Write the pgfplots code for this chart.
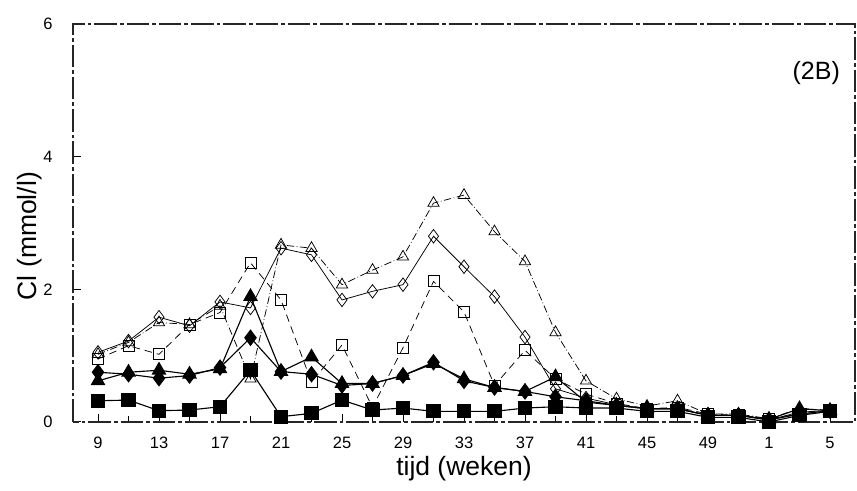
\documentclass[border=0pt]{standalone}
\usepackage{pgfplots}
\pgfplotsset{compat=1.18}
\usepackage{pgfplotstable}
\usepackage{fontspec}
\setmainfont{Liberation Sans}

% Cl per sampling week (weeks 1,3,5 of the next year stored as 53,55,57)
\pgfplotstableread{
week T    D    S    FT   FD   FS
9    1.02 1.05 0.95 0.62 0.75 0.32
11   1.20 1.22 1.15 0.75 0.72 0.33
13   1.50 1.58 1.02 0.78 0.66 0.17
15   1.47 1.45 1.47 0.72 0.70 0.18
17   1.75 1.81 1.65 0.80 0.82 0.23
19   0.65 1.72 2.40 1.89 1.27 0.78
21   2.67 2.62 1.84 0.76 0.76 0.08
23   2.62 2.52 0.60 0.98 0.72 0.13
25   2.07 1.84 1.16 0.58 0.55 0.33
27   2.29 1.97 0.22 0.58 0.58 0.18
29   2.49 2.07 1.12 0.70 0.70 0.21
31   3.30 2.80 2.12 0.88 0.90 0.16
33   3.42 2.34 1.66 0.65 0.62 0.16
35   2.87 1.89 0.55 0.52 0.52 0.16
37   2.42 1.28 1.08 0.46 0.46 0.21
39   1.35 0.50 0.65 0.68 0.38 0.23
41   0.62 0.36 0.42 0.30 0.32 0.21
43   0.35 0.26 0.28 0.25 0.25 0.21
45   0.24 0.20 0.20 0.20 0.20 0.16
47   0.32 0.20 0.22 0.20 0.20 0.16
49   0.12 0.10 0.12 0.10 0.10 0.07
51   0.12 0.10 0.10 0.10 0.10 0.07
53   0.05 0.03 0.05 0.04 0.03 0.00
55   0.20 0.15 0.12 0.20 0.12 0.10
57   0.18 0.17 0.17 0.17 0.17 0.16
}\cltable

\begin{document}
\begin{tikzpicture}
\begin{axis}[
    scale only axis,
    width=312.8pt, height=159.2pt,
    xmin=7.36, xmax=58.64,
    ymin=0, ymax=6,
    xtick={9,13,...,57},
    xticklabels={9,13,17,21,25,29,33,37,41,45,49,1,5},
    minor xtick={11,15,...,55},
    ytick={0,2,4,6},
    tick pos=left,
    tick align=inside,
    major tick length=3.2pt,
    minor tick length=2.2pt,
    tick style={black, line width=0.4pt},
    axis line style={black!85, line width=0.45pt, dash pattern=on 9pt off 1.2pt on 1.5pt off 1.2pt},
    tick label style={font=\fontsize{6.6}{7}\selectfont},
    /pgf/number format/assume math mode=true,
    xticklabel style={yshift=-2.6pt},
    yticklabel style={xshift=-4.6pt},
    xlabel={tijd (weken)},
    ylabel={Cl (mmol/l)},
    label style={font=\fontsize{10.6}{12}\selectfont},
    xlabel style={at={(axis description cs:0.5,-0.118)}, anchor=center},
    ylabel style={at={(axis description cs:-0.056,0.467)}, anchor=center},
    clip=false,
    every axis plot/.append style={black},
]
\addplot[line width=0.3pt, densely dashed, mark=square, mark size=2.2pt,
    mark options={solid, fill=white}] table[x=week, y=S] {\cltable};
\addplot[line width=0.3pt, mark=diamond, mark size=2.7pt,
    mark options={solid, fill=white}] table[x=week, y=D] {\cltable};
\addplot[line width=0.3pt, densely dash dot, mark=triangle, mark size=2.6pt,
    mark options={solid, fill=white}] table[x=week, y=T] {\cltable};
\addplot[line width=0.45pt, mark=diamond*, mark size=3pt,
    mark options={solid, fill=black}] table[x=week, y=FD] {\cltable};
\addplot[line width=0.45pt, mark=triangle*, mark size=3pt,
    mark options={solid, fill=black}] table[x=week, y=FT] {\cltable};
\addplot[line width=0.45pt, mark=square*, mark size=2.6pt,
    mark options={solid, fill=black}] table[x=week, y=FS] {\cltable};
\node[font=\fontsize{10}{12}\selectfont] at (axis cs:56.1,5.26) {(2B)};
\end{axis}
\pgfresetboundingbox
\path[use as bounding box] ([xshift=-29.2pt,yshift=-27.6pt]current axis.south west)
    rectangle ([xshift=0.8pt,yshift=9.6pt]current axis.north east);
\end{tikzpicture}
\end{document}
